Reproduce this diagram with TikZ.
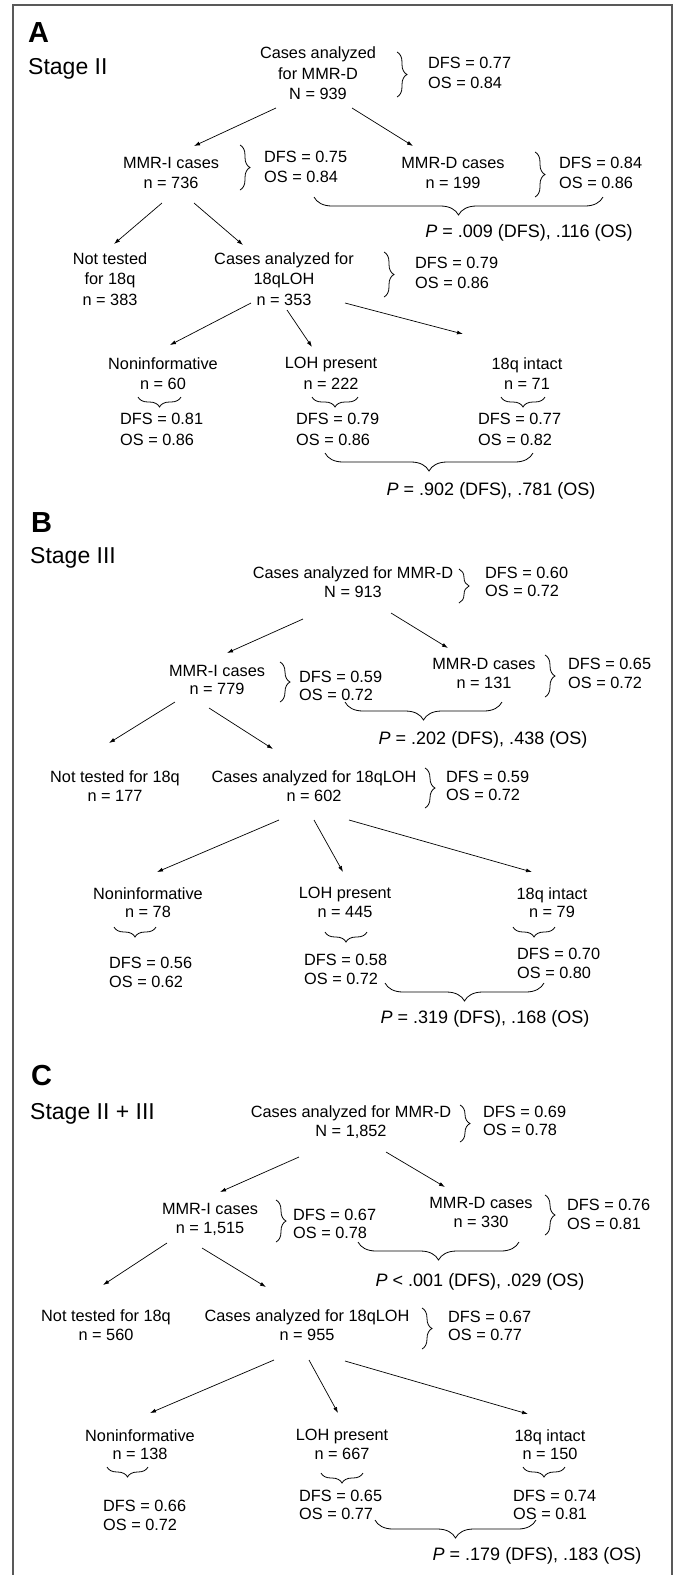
\documentclass[tikz,border=0pt]{standalone}
\usepackage{fontspec}
\setmainfont{Liberation Sans}
\usetikzlibrary{arrows.meta,decorations.pathreplacing}
\tikzset{
	txt/.style={align=center,inner sep=0pt,text depth=0pt,font=\fontsize{16.3}{18.5}\selectfont},
	stat/.style={txt,align=left,anchor=west},
	loose/.style={font=\fontsize{16.3}{20.5}\selectfont},
	pval/.style={inner sep=0pt,text depth=0pt,font=\fontsize{18}{21}\selectfont},
	stage/.style={anchor=west,inner sep=0pt,text depth=0pt,font=\fontsize{23}{26}\selectfont},
	lab/.style={anchor=west,inner sep=0pt,text depth=0pt,font=\fontsize{29}{32}\selectfont\bfseries},
	arr/.style={-{Latex[length=6pt,width=4pt]},line width=0.7pt},
	br/.style={decorate,decoration={brace,amplitude=10pt},line width=0.8pt},
	bigbr/.style={decorate,decoration={brace,amplitude=18pt},line width=0.8pt},
	frame/.style={draw=black!65,line width=1.3pt}
}
\begin{document}
\begin{tikzpicture}[x=1pt,y=1pt]
	\useasboundingbox (0,0) rectangle (681,-1575);
	\draw[frame] (13,-1590) |- (672,-5) -- (672,-1590);

	\node[lab] (labA) at (28,-33) {A};
	\node[stage] (stA) at (28,-66) {Stage II};
	\node[txt,loose] (topA) at (318,-73.5) {Cases analyzed\\for MMR-D\\N = 939};
	\node[stat,loose] (topAs) at (428,-73) {DFS = 0.77\\OS = 0.84};
	\node[txt,loose] (miA) at (171,-173) {MMR-I cases\\n = 736};
	\node[stat,loose] (miAs) at (264,-167) {DFS = 0.75\\OS = 0.84};
	\node[txt,loose] (mdA) at (453,-173) {MMR-D cases\\n = 199};
	\node[stat,loose] (mdAs) at (559,-173) {DFS = 0.84\\OS = 0.86};
	\node[pval] (pA) at (529,-231) {\textit{P} = .009 (DFS), .116 (OS)};
	\node[txt,loose] (ntA) at (110,-279) {Not tested\\for 18q\\n = 383};
	\node[txt,loose] (lohA) at (284,-279) {Cases analyzed for\\18qLOH\\n = 353};
	\node[stat,loose] (lohAs) at (415,-273) {DFS = 0.79\\OS = 0.86};
	\node[txt,loose] (niA) at (163,-373.5) {Noninformative\\n = 60};
	\node[txt,loose] (lpA) at (331,-373.5) {LOH present\\n = 222};
	\node[txt,loose] (inA) at (527,-373.5) {18q intact\\n = 71};
	\node[stat,loose] (niAs) at (120,-429.5) {DFS = 0.81\\OS = 0.86};
	\node[stat,loose] (lpAs) at (296,-429.5) {DFS = 0.79\\OS = 0.86};
	\node[stat,loose] (inAs) at (478,-429.5) {DFS = 0.77\\OS = 0.82};
	\node[pval] (pA2) at (491,-489) {\textit{P} = .902 (DFS), .781 (OS)};

	\draw[arr] ([shift={(-42,-34.5)}]topA.center) -- ([shift={(23,27)}]miA.center);
	\draw[arr] ([shift={(34,-34.5)}]topA.center) -- ([shift={(-40,27)}]mdA.center);
	\draw[arr] ([shift={(-9,-30)}]miA.center) -- ([shift={(4,35)}]ntA.center);
	\draw[arr] ([shift={(23,-30)}]miA.center) -- ([shift={(-41,34)}]lohA.center);
	\draw[arr] ([shift={(-33,-24)}]lohA.center) -- ([shift={(7,28.5)}]niA.center);
	\draw[arr] ([shift={(3,-31)}]lohA.center) -- ([shift={(-19,26.5)}]lpA.center);
	\draw[arr] ([shift={(61,-24)}]lohA.center) -- ([shift={(-64,39.5)}]inA.center);

	\draw[br] (397,-52) -- (397,-97);
	\draw[br] (240,-145) -- (240,-190);
	\draw[br] (535,-152) -- (535,-197);
	\draw[bigbr] (603,-197) -- (314,-197);
	\draw[br] (384,-252) -- (384,-297);
	\draw[br] (181,-397) -- (138,-397);
	\draw[br] (358,-397) -- (312,-397);
	\draw[br] (545,-397) -- (501,-397);
	\draw[bigbr] (533,-453) -- (325,-453);

	\node[lab] (labB) at (31,-522.5) {B};
	\node[stage] (stB) at (30,-555) {Stage III};
	\node[txt] (topB) at (353,-582) {Cases analyzed for MMR-D\\N = 913};
	\node[stat] (topBs) at (485,-582) {DFS = 0.60\\OS = 0.72};
	\node[txt] (miB) at (217,-680) {MMR-I cases\\n = 779};
	\node[stat] (miBs) at (299,-686) {DFS = 0.59\\OS = 0.72};
	\node[txt] (mdB) at (484,-673.5) {MMR-D cases\\n = 131};
	\node[stat] (mdBs) at (568,-673.5) {DFS = 0.65\\OS = 0.72};
	\node[pval] (pB) at (483,-738) {\textit{P} = .202 (DFS), .438 (OS)};
	\node[txt] (ntB) at (115,-786) {Not tested for 18q\\n = 177};
	\node[txt] (lohB) at (314,-786) {Cases analyzed for 18qLOH\\n = 602};
	\node[stat] (lohBs) at (446,-786) {DFS = 0.59\\OS = 0.72};
	\node[txt] (niB) at (148,-902.5) {Noninformative\\n = 78};
	\node[txt] (lpB) at (345,-902.5) {LOH present\\n = 445};
	\node[txt] (inB) at (552,-902.5) {18q intact\\n = 79};
	\node[stat] (niBs) at (109,-972.5) {DFS = 0.56\\OS = 0.62};
	\node[stat] (lpBs) at (304,-969.5) {DFS = 0.58\\OS = 0.72};
	\node[stat] (inBs) at (517,-963.5) {DFS = 0.70\\OS = 0.80};
	\node[pval] (pB2) at (485,-1017) {\textit{P} = .319 (DFS), .168 (OS)};

	\draw[arr] ([shift={(-50,-37)}]topB.center) -- ([shift={(10,27)}]miB.center);
	\draw[arr] ([shift={(38,-31)}]topB.center) -- ([shift={(-36,25.5)}]mdB.center);
	\draw[arr] ([shift={(-42,-22)}]miB.center) -- ([shift={(-6,43)}]ntB.center);
	\draw[arr] ([shift={(-8,-28)}]miB.center) -- ([shift={(-41,37)}]lohB.center);
	\draw[arr] ([shift={(-35,-34)}]lohB.center) -- ([shift={(9,30.5)}]niB.center);
	\draw[arr] ([shift={(0,-34)}]lohB.center) -- ([shift={(-2,30.5)}]lpB.center);
	\draw[arr] ([shift={(35,-34)}]lohB.center) -- ([shift={(-20,30.5)}]inB.center);

	\draw[br] (459,-569) -- (459,-603);
	\draw[br] (280,-662) -- (280,-702);
	\draw[br] (545,-655) -- (545,-697);
	\draw[bigbr] (502,-702) -- (345,-702);
	\draw[br] (425,-768) -- (425,-808);
	\draw[br] (156,-927) -- (114,-927);
	\draw[br] (367,-932) -- (325,-932);
	\draw[br] (555,-927) -- (513,-927);
	\draw[bigbr] (544,-983) -- (385,-983);

	\node[lab] (labC) at (31,-1075) {C};
	\node[stage] (stC) at (30,-1111) {Stage II + III};
	\node[txt] (topC) at (351,-1121) {Cases analyzed for MMR-D\\N = 1,852};
	\node[stat] (topCs) at (483,-1121) {DFS = 0.69\\OS = 0.78};
	\node[txt] (miC) at (210,-1218.5) {MMR-I cases\\n = 1,515};
	\node[stat] (miCs) at (293,-1224) {DFS = 0.67\\OS = 0.78};
	\node[txt] (mdC) at (481,-1212.5) {MMR-D cases\\n = 330};
	\node[stat] (mdCs) at (567,-1214.5) {DFS = 0.76\\OS = 0.81};
	\node[pval] (pC) at (480,-1280) {\textit{P} < .001 (DFS), .029 (OS)};
	\node[txt] (ntC) at (106,-1325) {Not tested for 18q\\n = 560};
	\node[txt] (lohC) at (307,-1325) {Cases analyzed for 18qLOH\\n = 955};
	\node[stat] (lohCs) at (448,-1326) {DFS = 0.67\\OS = 0.77};
	\node[txt] (niC) at (140,-1444.5) {Noninformative\\n = 138};
	\node[txt] (lpC) at (342,-1444.5) {LOH present\\n = 667};
	\node[txt] (inC) at (550,-1444.5) {18q intact\\n = 150};
	\node[stat] (niCs) at (103,-1515.5) {DFS = 0.66\\OS = 0.72};
	\node[stat] (lpCs) at (299,-1505) {DFS = 0.65\\OS = 0.77};
	\node[stat] (inCs) at (513,-1505) {DFS = 0.74\\OS = 0.81};
	\node[pval] (pC2) at (537,-1554) {\textit{P} = .179 (DFS), .183 (OS)};

	\draw[arr] ([shift={(-52,-36)}]topC.center) -- ([shift={(10,26.5)}]miC.center);
	\draw[arr] ([shift={(35,-31)}]topC.center) -- ([shift={(-36,25.5)}]mdC.center);
	\draw[arr] ([shift={(-43,-24.5)}]miC.center) -- ([shift={(-3,40)}]ntC.center);
	\draw[arr] ([shift={(-8,-29.5)}]miC.center) -- ([shift={(-41,38)}]lohC.center);
	\draw[arr] ([shift={(-33,-35)}]lohC.center) -- ([shift={(10,31.5)}]niC.center);
	\draw[arr] ([shift={(2,-35)}]lohC.center) -- ([shift={(-4,31.5)}]lpC.center);
	\draw[arr] ([shift={(38,-36)}]lohC.center) -- ([shift={(-22,30.5)}]inC.center);

	\draw[br] (460,-1105) -- (460,-1142);
	\draw[br] (276,-1200) -- (276,-1242);
	\draw[br] (545,-1195) -- (545,-1235);
	\draw[bigbr] (519,-1242) -- (358,-1242);
	\draw[br] (422,-1308) -- (422,-1349);
	\draw[br] (148,-1467) -- (107,-1467);
	\draw[br] (363,-1473) -- (321,-1473);
	\draw[br] (565,-1467) -- (523,-1467);
	\draw[bigbr] (536,-1520) -- (375,-1520);
\end{tikzpicture}
\end{document}
